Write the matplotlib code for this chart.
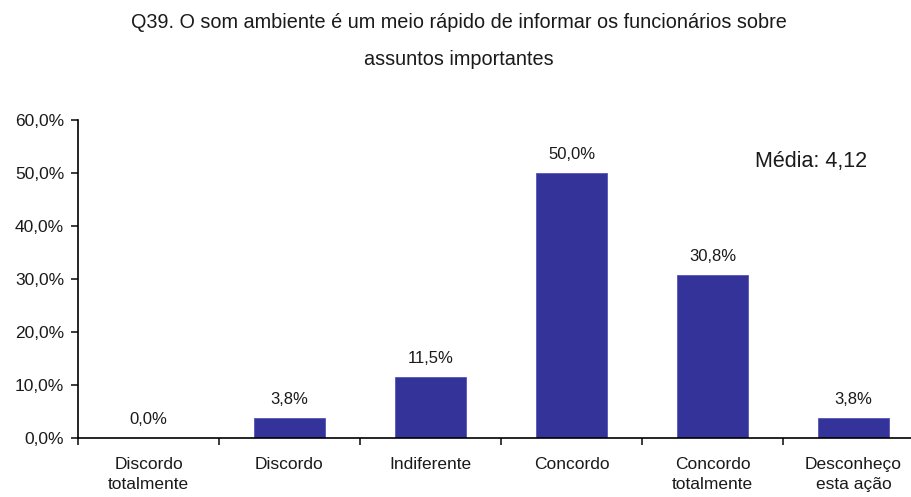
import matplotlib
matplotlib.use("Agg")
import matplotlib.pyplot as plt
from matplotlib.ticker import FixedLocator

plt.rcParams['font.family'] = ['Liberation Sans', 'DejaVu Sans']
plt.rcParams['text.color'] = '#1a1a1a'
plt.rcParams['xtick.color'] = '#1a1a1a'
plt.rcParams['ytick.color'] = '#1a1a1a'

categories = ["Discordo\ntotalmente", "Discordo", "Indiferente", "Concordo",
              "Concordo\ntotalmente", "Desconheço\nesta ação"]
values = [0.0, 3.8, 11.5, 50.0, 30.8, 3.8]
y_ticks = [0, 10, 20, 30, 40, 50, 60]
title = "Q39. O som ambiente é um meio rápido de informar os funcionários sobre\nassuntos importantes"
mean_text = "Média: 4,12"

W, H = 912, 497
fig = plt.figure(figsize=(W / 100, H / 100), dpi=100)
left, right, bottom, top = 78, 924, 438, 120
ax = fig.add_axes([left / W, 1 - bottom / H, (right - left) / W, (bottom - top) / H])

x = list(range(len(categories)))
ax.bar(x, values, width=0.5, color="#333399", edgecolor="#5555bb", linewidth=0.6, zorder=2)

for xi, v in zip(x, values):
    ax.annotate(f"{v:.1f}".replace(".", ",") + "%", (xi, v), xytext=(0, 8),
                textcoords="offset points", ha="center", va="bottom", fontsize=12)

ax.set_xlim(-0.5, len(categories) - 0.5)
ax.set_ylim(0, 60)
ax.set_yticks(y_ticks)
ax.set_yticklabels([f"{t:.1f}".replace(".", ",") + "%" for t in y_ticks], fontsize=12.5)
ax.set_xticks(x)
ax.set_xticklabels(categories, fontsize=12.5, linespacing=1.4)
ax.xaxis.set_minor_locator(FixedLocator([i - 0.5 for i in range(len(categories) + 1)]))
ax.tick_params(axis="x", which="major", length=0, pad=14)
ax.tick_params(axis="x", which="minor", length=5, width=1.2, direction="out")
ax.tick_params(axis="y", length=5, width=1.2, direction="out", pad=5)

for s in ("top", "right"):
    ax.spines[s].set_visible(False)
for s in ("left", "bottom"):
    ax.spines[s].set_linewidth(1.2)

fig.text(459 / W, 1 - 41 / H, title, ha="center", va="center", fontsize=14.3, linespacing=2.25)
fig.text(755 / W, 1 - 162 / H, mean_text, ha="left", va="center", fontsize=15.5)

fig.savefig("out.png", dpi=100)
